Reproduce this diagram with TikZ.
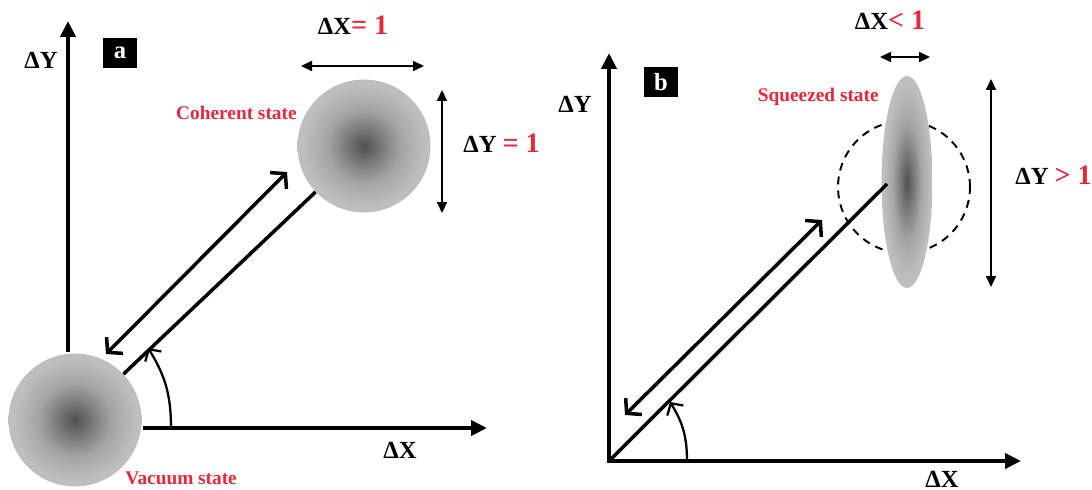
\documentclass[tikz,border=0pt]{standalone}
\usepackage{fontspec}
\setmainfont{Liberation Serif}
\usepackage{tikz}
\usetikzlibrary{shapes.geometric, arrows.meta, positioning, calc}
\definecolor{labelred}{RGB}{232, 40, 58}
\definecolor{blobdark}{RGB}{80, 80, 80}
\definecolor{blobdim}{RGB}{118, 118, 118}
\definecolor{blobmid}{RGB}{165, 165, 165}
\definecolor{bloblight}{RGB}{190, 190, 190}
\pgfdeclareradialshading{blob}{\pgfpoint{0bp}{0bp}}{color(0bp)=(blobdark); color(6bp)=(blobdim); color(14bp)=(blobmid); color(23bp)=(bloblight); color(50bp)=(bloblight)}

\begin{document}
\begin{tikzpicture}[x=0.02cm, y=-0.02cm,
  quadaxis/.style={line width=2.3pt, -{Triangle[length=0.32cm, width=0.3cm]}},
  span/.style={line width=1.2pt, {Triangle[length=0.22cm, width=0.2cm]}-{Triangle[length=0.22cm, width=0.2cm]}},
  ray/.style={line width=2pt},
  swing/.style={line width=2pt, {Straight Barb[length=0.2cm, width=0.46cm]}-{Straight Barb[length=0.2cm, width=0.46cm]}},
  turn/.style={line width=1.3pt, -{Straight Barb[length=0.17cm, width=0.38cm]}},
  quasi/.style={circle, shade, shading=blob, minimum size=2.66cm, inner sep=0pt},
  axlabel/.style={inner sep=0pt, font=\fontsize{14}{16}\selectfont\bfseries},
  statelabel/.style={inner sep=0pt, text=labelred, font=\fontsize{11}{13}\selectfont\bfseries},
  tag/.style={fill=black, text=white, minimum width=0.68cm, minimum height=0.6cm, inner sep=0pt, font=\fontsize{14}{16}\selectfont\bfseries}]
\useasboundingbox (0,0) rectangle (1092,490);

% (a) vacuum and coherent state
\node[quasi] (vac) at (75,420) {};
\node[quasi] (coh) at (364,146) {};
\coordinate (ya0) at (68,352);
\coordinate (ya1) at (68,21);
\coordinate (xa0) at (143,428);
\coordinate (xa1) at (487,428);
\draw[quadaxis] (ya0) -- (ya1);
\draw[quadaxis] (xa0) -- (xa1);
\draw[ray] (vac) -- (coh);
\coordinate (sa0) at (106,354);
\coordinate (sa1) at (287,172);
\draw[swing] (sa0) -- (sa1);
\coordinate (ta0) at (171,428);
\coordinate (ta1) at (148,348);
\draw[turn] (ta0) to[out=90, in=-58] (ta1);
\coordinate (wa0) at (301,66);
\coordinate (wa1) at (424,66);
\draw[span] (wa0) -- (wa1);
\coordinate (ha0) at (442,90);
\coordinate (ha1) at (442,213);
\draw[span] (ha0) -- (ha1);
\node[axlabel] (ya-lab) at (41,60) {ΔY};
\node[axlabel] (xa-lab) at (400,450) {ΔX};
\node[tag] (tag-a) at (120,53) {a};
\node[statelabel, anchor=west] (vac-lab) at (125,478) {Vacuum state};
\node[statelabel, anchor=east] (coh-lab) at (297,113) {Coherent state};
\node[axlabel] (wa-lab) at (353,25) {ΔX{\color{labelred}\fontsize{16}{18}\selectfont= 1}};
\node[axlabel, anchor=west] (ha-lab) at (463,143) {ΔY {\color{labelred}\fontsize{16}{18}\selectfont= 1}};

% (b) squeezed state
\coordinate (ob) at (609,461);
\coordinate (yb0) at (609,463);
\coordinate (yb1) at (609,53);
\coordinate (xb1) at (1021,461);
\node[circle, draw, line width=1.1pt, dash pattern=on 4.5pt off 3.5pt, minimum size=2.64cm, inner sep=0pt] (ring) at (904,187) {};
\node[ellipse, shade, shading=blob, minimum width=1.02cm, minimum height=4.24cm, inner sep=0pt] (sq) at (907,182) {};
\draw[quadaxis] (yb0) -- (yb1);
\draw[quadaxis] (ob) -- (xb1);
\coordinate (sqtip) at (887,184);
\draw[ray] (ob) -- (sqtip);
\coordinate (sb0) at (625,415);
\coordinate (sb1) at (822,220);
\draw[swing] (sb0) -- (sb1);
\coordinate (tb0) at (687,461);
\coordinate (tb1) at (670,402);
\draw[turn] (tb0) to[out=90, in=-58] (tb1);
\coordinate (wb0) at (880,57);
\coordinate (wb1) at (930,57);
\draw[span] (wb0) -- (wb1);
\coordinate (hb0) at (991,79);
\coordinate (hb1) at (991,287);
\draw[span] (hb0) -- (hb1);
\node[axlabel] (yb-lab) at (575,104) {ΔY};
\node[axlabel] (xb-lab) at (942,479) {ΔX};
\node[tag] (tag-b) at (661,82) {b};
\node[statelabel, anchor=east] (sq-lab) at (879,97) {Squeezed state};
\node[axlabel] (wb-lab) at (890,20) {ΔX{\color{labelred}\fontsize{16}{18}\selectfont< 1}};
\node[axlabel, anchor=west] (hb-lab) at (1015,175) {ΔY {\color{labelred}\fontsize{16}{18}\selectfont> 1}};
\end{tikzpicture}
\end{document}
